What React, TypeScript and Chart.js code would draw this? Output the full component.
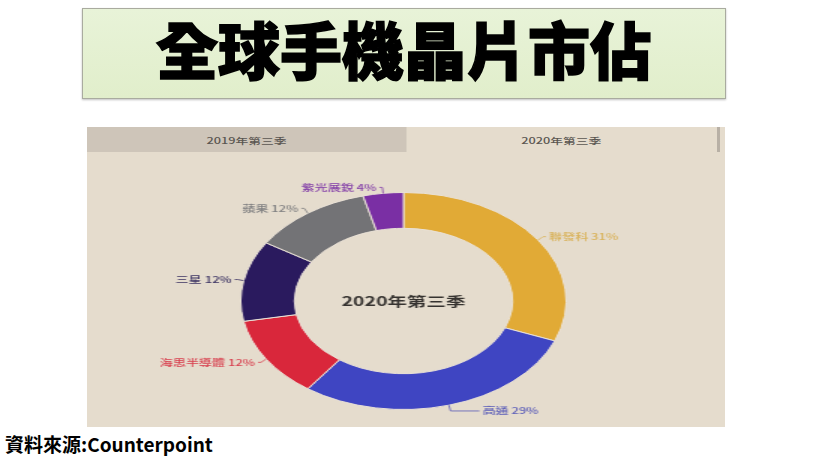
import React, { useEffect, useRef } from "react";
import { Chart, registerables } from "chart.js";

Chart.register(...registerables);

const companies = ["聯發科", "高通", "海思半導體", "三星", "蘋果", "紫光展銳"];
const shares = [31, 29, 12, 12, 12, 4];
const sliceColors = ["#e1aa36", "#3f45c2", "#d9273b", "#2a1a5e", "#737376", "#7a2fa4"];
const labelColors = ["#d9b25a", "#5a5cb8", "#d8404f", "#3b3262", "#7f7f80", "#8440a8"];
const tabLabels = ["2019年第三季", "2020年第三季"];
const centerLabel = "2020年第三季";
const titleText = "全球手機晶片市佔";
const sourceText = "資料來源:Counterpoint";

const FONT = '"Noto Sans CJK TC", "Noto Sans", sans-serif';
const STRETCH = 1.5;

const labelPlugin = {
  id: "outLabels",
  afterDatasetsDraw(chart: any) {
    const ctx = chart.ctx;
    const meta = chart.getDatasetMeta(0);
    ctx.save();
    meta.data.forEach((arc: any, i: number) => {
      const p = arc.getProps(["x", "y", "startAngle", "endAngle", "outerRadius"], true);
      const mid = (p.startAngle + p.endAngle) / 2;
      const c = Math.cos(mid);
      const s = Math.sin(mid);
      const x0 = p.x + c * p.outerRadius;
      const y0 = p.y + s * p.outerRadius;
      const x1 = p.x + c * (p.outerRadius + 4);
      const y1 = p.y + s * (p.outerRadius + 6);
      const right = c >= 0;
      const h = 2 + 22 * Math.pow(Math.max(0, s), 6);
      const x2 = x1 + (right ? h : -2);
      ctx.strokeStyle = labelColors[i];
      ctx.lineWidth = 0.8;
      ctx.beginPath();
      ctx.moveTo(x0, y0);
      ctx.lineTo(x1, y1);
      ctx.lineTo(x2, y1);
      ctx.stroke();
      ctx.fillStyle = labelColors[i];
      ctx.font = `500 8.7px ${FONT}`;
      ctx.textBaseline = "middle";
      ctx.textAlign = right ? "left" : "right";
      const label = chart.data.labels[i] + " " + chart.data.datasets[0].data[i] + "%";
      ctx.fillText(label, x2 + (right ? 2 : -2), y1);
    });
    const a = meta.data[0];
    if (a) {
      ctx.fillStyle = "#363330";
      ctx.font = `600 13px ${FONT}`;
      ctx.textAlign = "center";
      ctx.textBaseline = "middle";
      ctx.fillText(centerLabel, a.x, a.y);
    }
    ctx.restore();
  },
};

export default function App() {
  const ref = useRef<HTMLCanvasElement>(null);
  useEffect(() => {
    if (!ref.current) return;
    const chart = new Chart(ref.current, {
      type: "doughnut",
      data: {
        labels: companies,
        datasets: [
          {
            data: shares,
            backgroundColor: sliceColors,
            borderColor: "#e9e1d6",
            borderWidth: 1,
          },
        ],
      },
      options: {
        responsive: false,
        maintainAspectRatio: false,
        animation: false,
        devicePixelRatio: 1,
        cutout: "67%",
        layout: { padding: { top: 40, bottom: 17, left: 0, right: 3 } },
        plugins: { legend: { display: false }, tooltip: { enabled: false } },
      },
      plugins: [labelPlugin],
    });
    return () => chart.destroy();
  }, []);

  const panelW = 638 / STRETCH;
  return (
    <div style={{ position: "fixed", left: 0, top: 0, width: 819, height: 462, background: "#ffffff", overflow: "hidden" }}>
      <div
        style={{
          position: "absolute",
          left: 82,
          top: 8,
          width: 642,
          height: 89,
          background: "linear-gradient(#e8f3d8, #e1eecb)",
          border: "1px solid #a9ab9f",
          boxShadow: "0 1px 2px rgba(0,0,0,0.25)",
          display: "flex",
          alignItems: "center",
          justifyContent: "center",
        }}
      >
        <span
          style={{
            fontFamily: FONT,
            fontWeight: 900,
            fontSize: 62,
            letterSpacing: 0,
            color: "#000",
            lineHeight: 1,
            position: "relative",
            top: -6,
            WebkitTextStroke: "1.5px #000",
          }}
        >
          {titleText}
        </span>
      </div>

      <div
        style={{
          position: "absolute",
          left: 87,
          top: 127,
          width: panelW,
          height: 300,
          transform: `scaleX(${STRETCH})`,
          transformOrigin: "0 0",
          background: "#e5dccd",
        }}
      >
        <div style={{ position: "absolute", left: 0, top: 0, width: 212.7, height: 25, background: "#cec5b9", display: "flex", alignItems: "center", justifyContent: "center", fontFamily: FONT, fontWeight: 500, fontSize: 8.5, color: "#5a5651" }}>
          {tabLabels[0]}
        </div>
        <div style={{ position: "absolute", left: 212.7, top: 0, width: 207, height: 25, display: "flex", alignItems: "center", justifyContent: "center", fontFamily: FONT, fontWeight: 500, fontSize: 8.5, color: "#5a5651" }}>
          {tabLabels[1]}
        </div>
        <div style={{ position: "absolute", left: 420.3, top: 0, width: 1.4, height: 25, background: "#b8b0a5" }} />
        <div style={{ position: "absolute", left: 0, top: 25 }}>
          <canvas ref={ref} width={425} height={275} style={{ display: "block" }} />
        </div>
      </div>

      <div style={{ position: "absolute", left: 5, top: 433, fontFamily: FONT, fontWeight: 700, fontSize: 19, color: "#000", lineHeight: 1.2 }}>
        {sourceText}
      </div>
    </div>
  );
}
